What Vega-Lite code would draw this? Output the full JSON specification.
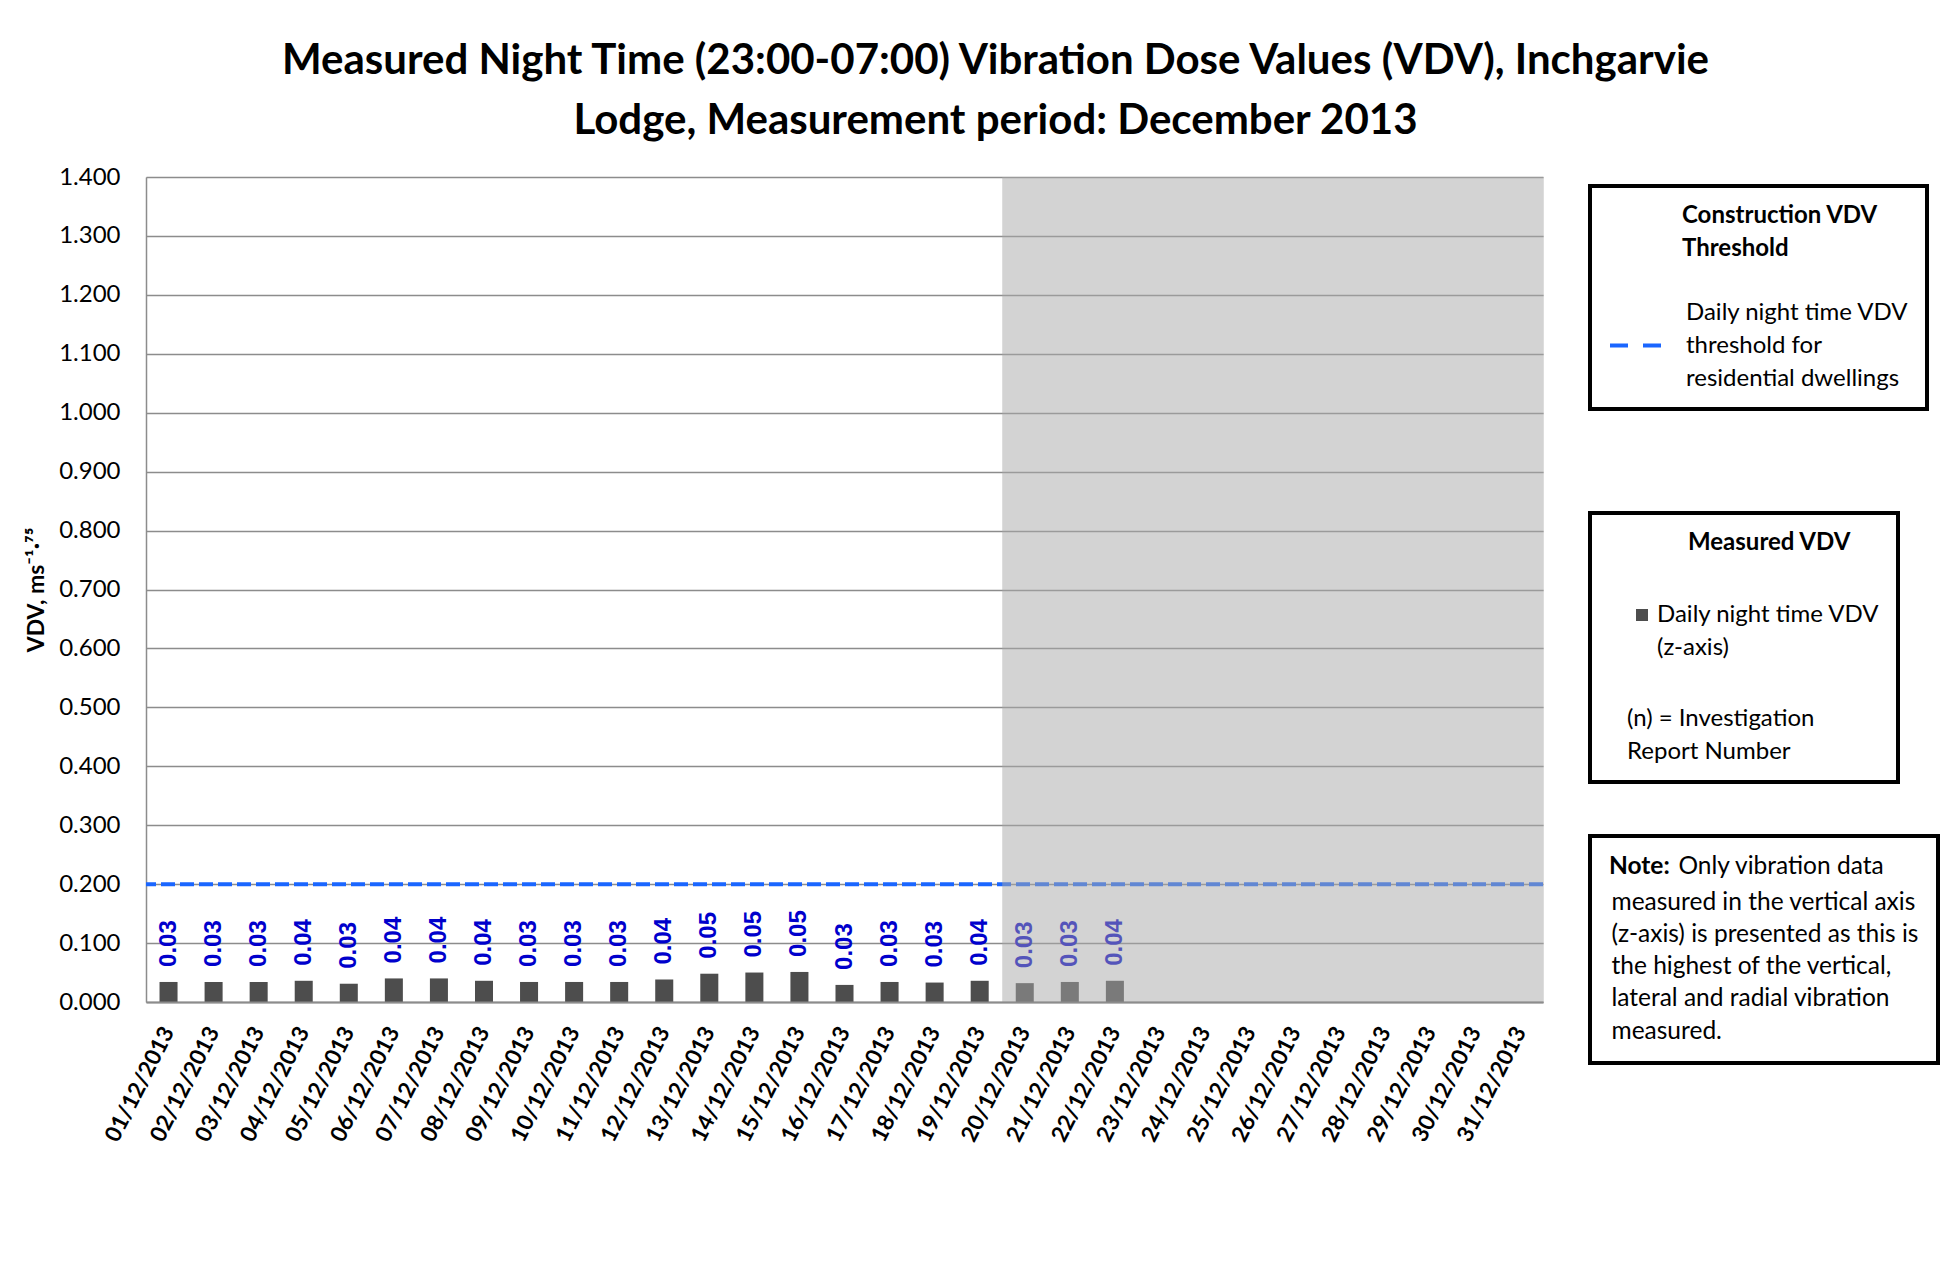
{
  "$schema": "https://vega.github.io/schema/vega-lite/v6.json",
  "width": 1397,
  "height": 825,
  "autosize": {"type": "none"},
  "padding": {"left": 146, "top": 177, "right": 402, "bottom": 273},
  "background": "white",
  "title": {
    "text": ["Measured Night Time (23:00-07:00) Vibration Dose Values (VDV), Inchgarvie", "Lodge, Measurement period: December 2013"],
    "anchor": "middle",
    "frame": "group",
    "dx": 151,
    "offset": 22,
    "font": "Lato",
    "fontSize": 42,
    "fontWeight": "bold",
    "lineHeight": 60,
    "color": "black"
  },
  "datasets": {
    "vdv": [
      {"date": "01/12/2013", "vdv": 0.034, "series": "Daily night time VDV (z-axis)"},
      {"date": "02/12/2013", "vdv": 0.034, "series": "Daily night time VDV (z-axis)"},
      {"date": "03/12/2013", "vdv": 0.034, "series": "Daily night time VDV (z-axis)"},
      {"date": "04/12/2013", "vdv": 0.036, "series": "Daily night time VDV (z-axis)"},
      {"date": "05/12/2013", "vdv": 0.031, "series": "Daily night time VDV (z-axis)"},
      {"date": "06/12/2013", "vdv": 0.040, "series": "Daily night time VDV (z-axis)"},
      {"date": "07/12/2013", "vdv": 0.040, "series": "Daily night time VDV (z-axis)"},
      {"date": "08/12/2013", "vdv": 0.036, "series": "Daily night time VDV (z-axis)"},
      {"date": "09/12/2013", "vdv": 0.034, "series": "Daily night time VDV (z-axis)"},
      {"date": "10/12/2013", "vdv": 0.034, "series": "Daily night time VDV (z-axis)"},
      {"date": "11/12/2013", "vdv": 0.034, "series": "Daily night time VDV (z-axis)"},
      {"date": "12/12/2013", "vdv": 0.038, "series": "Daily night time VDV (z-axis)"},
      {"date": "13/12/2013", "vdv": 0.048, "series": "Daily night time VDV (z-axis)"},
      {"date": "14/12/2013", "vdv": 0.050, "series": "Daily night time VDV (z-axis)"},
      {"date": "15/12/2013", "vdv": 0.051, "series": "Daily night time VDV (z-axis)"},
      {"date": "16/12/2013", "vdv": 0.029, "series": "Daily night time VDV (z-axis)"},
      {"date": "17/12/2013", "vdv": 0.034, "series": "Daily night time VDV (z-axis)"},
      {"date": "18/12/2013", "vdv": 0.033, "series": "Daily night time VDV (z-axis)"},
      {"date": "19/12/2013", "vdv": 0.036, "series": "Daily night time VDV (z-axis)"},
      {"date": "20/12/2013", "vdv": 0.032, "series": "Daily night time VDV (z-axis)"},
      {"date": "21/12/2013", "vdv": 0.034, "series": "Daily night time VDV (z-axis)"},
      {"date": "22/12/2013", "vdv": 0.036, "series": "Daily night time VDV (z-axis)"}
    ],
    "threshold": [
      {"vdv_threshold": 0.2, "series": "Daily night time VDV threshold for residential dwellings"}
    ],
    "period": [
      {"from": "20/12/2013", "to": "31/12/2013", "note": "Only vibration data measured in the vertical axis (z-axis) is presented as this is the highest of the vertical, lateral and radial vibration measured."}
    ]
  },
  "layer": [
    {
      "data": {"name": "vdv"},
      "encoding": {
        "x": {
          "field": "date",
          "type": "nominal",
          "sort": null,
          "scale": {
            "domain": ["01/12/2013","02/12/2013","03/12/2013","04/12/2013","05/12/2013","06/12/2013","07/12/2013","08/12/2013","09/12/2013","10/12/2013","11/12/2013","12/12/2013","13/12/2013","14/12/2013","15/12/2013","16/12/2013","17/12/2013","18/12/2013","19/12/2013","20/12/2013","21/12/2013","22/12/2013","23/12/2013","24/12/2013","25/12/2013","26/12/2013","27/12/2013","28/12/2013","29/12/2013","30/12/2013","31/12/2013"],
            "paddingInner": 0,
            "paddingOuter": 0
          },
          "axis": {
            "title": null,
            "labelAngle": -63,
            "labelAlign": "right",
            "labelBaseline": "middle",
            "labelFont": "Lato",
            "labelFontSize": 22.5,
            "labelFontWeight": "bold",
            "labelColor": "black",
            "labelPadding": 26,
            "labelOverlap": false,
            "ticks": false,
            "grid": false,
            "domainColor": "#8c8c8c",
            "domainWidth": 2,
            "zindex": 1
          }
        },
        "y": {
          "field": "vdv",
          "type": "quantitative",
          "scale": {"domain": [0, 1.4], "nice": false, "zero": true},
          "axis": {
            "title": "VDV, ms⁻¹·⁷⁵",
            "values": [0, 0.1, 0.2, 0.3, 0.4, 0.5, 0.6, 0.7, 0.8, 0.9, 1.0, 1.1, 1.2, 1.3, 1.4],
            "format": ".3f",
            "labelFont": "Lato",
            "labelFontSize": 24,
            "labelColor": "black",
            "labelPadding": 26,
            "labelOverlap": false,
            "ticks": false,
            "domainColor": "#8c8c8c",
            "domainWidth": 1.5,
            "gridColor": "#8c8c8c",
            "gridWidth": 1.3,
            "titleFont": "Lato",
            "titleFontSize": 23,
            "titleFontWeight": "bold",
            "titleColor": "black",
            "titlePadding": 10
          }
        }
      },
      "layer": [
        {
          "mark": {"type": "bar", "width": {"band": 0.4}},
          "encoding": {
            "fill": {
              "field": "series",
              "type": "nominal",
              "scale": {"domain": ["Daily night time VDV (z-axis)", "(n) = Investigation Report Number"], "range": ["#4d4d4d", "transparent"]},
              "legend": {
                "title": "Measured VDV",
                "orient": "none",
                "legendX": 1444,
                "legendY": 336,
                "padding": 18,
                "strokeColor": "black",
                "fillColor": "white",
                "titleAnchor": "start",
                "titleFont": "Lato",
                "titleFontSize": 24,
                "titleFontWeight": "bold",
                "titleColor": "black",
                "titleLimit": 600,
                "titlePadding": 48,
                "labelFont": "Lato",
                "labelFontSize": 24,
                "labelColor": "black",
                "labelLimit": 600,
                "labelBaseline": "middle",
                "labelOffset": 3,
                "labelExpr": "datum.label == '(n) = Investigation Report Number' ? ['(n) = Investigation', 'Report Number'] : ['Daily night time VDV', '(z-axis)']",
                "symbolType": "square",
                "symbolSize": 144,
                "symbolOffset": 22,
                "symbolStrokeWidth": 0,
                "rowPadding": 47,
                "encode": {
                  "legend": {"update": {"strokeWidth": {"value": 4}, "stroke": {"value": "black"}}},
                  "title": {"update": {"dx": {"value": 80}}},
                  "labels": {"update": {"dx": [{"test": "datum.index === 1", "value": -30}, {"value": 0}], "lineHeight": {"value": 33}}}
                }
              }
            }
          }
        },
        {
          "mark": {"type": "text", "angle": 270, "align": "left", "baseline": "middle", "dx": 15, "font": "Liberation Sans", "fontSize": 24, "fontWeight": "bold", "color": "#0000cc"},
          "encoding": {
            "text": {"field": "vdv", "type": "quantitative", "format": ".2f"}
          }
        }
      ]
    },
    {
      "data": {"name": "threshold"},
      "mark": {"type": "rule", "strokeWidth": 4, "strokeDash": [14, 5]},
      "encoding": {
        "y": {"field": "vdv_threshold", "type": "quantitative", "title": "VDV, ms⁻¹·⁷⁵"},
        "stroke": {
          "field": "series",
          "type": "nominal",
          "scale": {"range": ["#1a66ff"]},
          "legend": {
            "title": ["Construction VDV", "Threshold"],
            "orient": "none",
            "legendX": 1444,
            "legendY": 9,
            "padding": 18,
            "strokeColor": "black",
            "fillColor": "white",
            "titleFont": "Lato",
            "titleFontSize": 24,
            "titleFontWeight": "bold",
            "titleColor": "black",
            "titleLimit": 600,
            "titleLineHeight": 33,
            "titlePadding": 56,
            "labelFont": "Lato",
            "labelFontSize": 24,
            "labelColor": "black",
            "labelLimit": 600,
            "labelBaseline": "middle",
            "labelOffset": 21,
            "labelExpr": "['Daily night time VDV', 'threshold for', 'residential dwellings']",
            "symbolType": "stroke",
            "symbolSize": 2809,
            "symbolDash": [18, 15],
            "symbolStrokeWidth": 4,
            "encode": {
              "legend": {"update": {"strokeWidth": {"value": 4}, "stroke": {"value": "black"}}},
              "title": {"update": {"dx": {"value": 74}}},
              "labels": {"update": {"lineHeight": {"value": 33}, "dy": {"value": -33}}}
            }
          }
        }
      }
    },
    {
      "data": {"name": "period"},
      "mark": {"type": "rect", "opacity": 0.5},
      "encoding": {
        "x": {"field": "from", "type": "nominal", "bandPosition": 0, "title": null},
        "x2": {"field": "to", "bandPosition": 1},
        "y": {"datum": 1.4},
        "y2": {"datum": 0},
        "color": {
          "field": "note",
          "type": "nominal",
          "scale": {
            "domain": ["Only vibration data measured in the vertical axis (z-axis) is presented as this is the highest of the vertical, lateral and radial vibration measured.", "note (continued)"],
            "range": ["#a7a7a7", "#a7a7a7"]
          },
          "legend": {
            "title": "Note:",
            "orient": "none",
            "legendX": 1444,
            "legendY": 659,
            "padding": 19,
            "strokeColor": "black",
            "fillColor": "white",
            "titleFont": "Lato",
            "titleFontSize": 24.5,
            "titleFontWeight": "bold",
            "titleColor": "black",
            "titlePadding": -37,
            "labelFont": "Lato",
            "labelFontSize": 24.5,
            "labelColor": "black",
            "labelLimit": 600,
            "labelBaseline": "top",
            "labelOffset": 0,
            "labelExpr": "datum.index === 0 ? 'Only vibration data' : ['measured in the vertical axis', '(z-axis) is presented as this is', 'the highest of the vertical,', 'lateral and radial vibration', 'measured.']",
            "symbolSize": 0,
            "symbolOpacity": 0,
            "symbolOffset": 0,
            "rowPadding": -4,
            "encode": {
              "legend": {"update": {"strokeWidth": {"value": 4}, "stroke": {"value": "black"}}},
              "labels": {"update": {"dx": [{"test": "datum.index === 0", "value": 45}, {"value": -22}], "lineHeight": {"value": 32.2}}}
            }
          }
        }
      }
    }
  ]
}
